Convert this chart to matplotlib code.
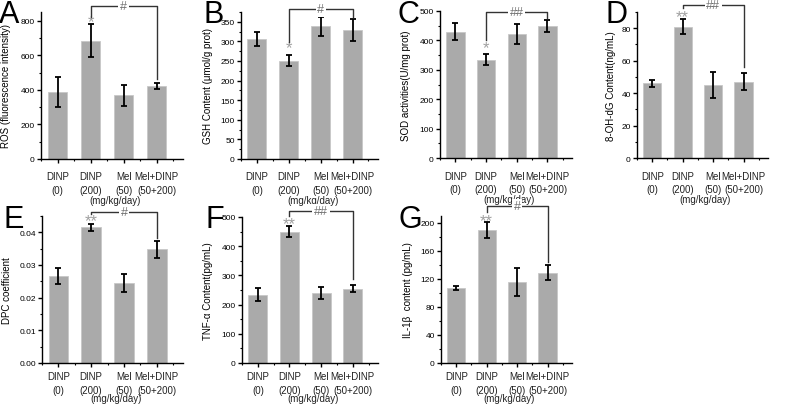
import matplotlib
matplotlib.use("Agg")
import matplotlib.pyplot as plt
from matplotlib.ticker import MultipleLocator, FormatStrFormatter
from matplotlib.transforms import blended_transform_factory

plt.rcParams['font.family'] = ['Liberation Sans', 'DejaVu Sans']

# ---------------- data ----------------
groups = ["DINP\n(0)", "DINP\n(200)", "Mel\n(50)", "Mel+DINP\n(50+200)"]
unit_label = "(mg/kg/day)"

ros_mean = [385, 685, 368, 423]
ros_err = [87, 97, 62, 19]
gsh_mean = [307, 251, 339, 329]
gsh_err = [18, 15, 24, 27]
sod_mean = [430, 335, 422, 448]
sod_err = [28, 18, 35, 21]
ohdg_mean = [46, 81, 45, 47]
ohdg_err = [2.3, 4.5, 8, 5.3]
dpc_mean = [0.0267, 0.0415, 0.0245, 0.0348]
dpc_err = [0.0025, 0.0012, 0.0028, 0.0026]
tnf_mean = [234, 450, 240, 255]
tnf_err = [23, 20, 21, 13]
il1b_mean = [107, 190, 116, 129]
il1b_err = [2.4, 11, 20, 11]

panel_letters = ["A", "B", "C", "D", "E", "F", "G"]
ylabels = ["ROS (fluorescence intensity)", "GSH Content (\u03bcmol/g prot)",
           "SOD activities(U/mg prot)", "8-OH-dG Content(ng/mL)",
           "DPC coefficient", "TNF-\u03b1 Content(pg/mL)",
           "IL-1\u03b2  content (pg/mL)"]
star_marks = ["*", "*", "*", "**", "**", "**", "**"]
hash_marks = ["#", "#", "##", "##", "#", "##", "#"]
ylims = [850, 375, 500, 90, 0.045, 500, 210]
major_steps = [200, 50, 100, 20, 0.01, 100, 40]
tick_formats = ["%d", "%d", "%d", "%d", "%.2f", "%d", "%d"]

means = [ros_mean, gsh_mean, sod_mean, ohdg_mean, dpc_mean, tnf_mean, il1b_mean]
errs = [ros_err, gsh_err, sod_err, ohdg_err, dpc_err, tnf_err, il1b_err]

# ---------------- layout (pixels) ----------------
W, H = 787, 406
boxes = [(41, 183, 13, 160), (241, 378, 13, 160), (440, 572, 12, 159),
         (637, 768, 13, 159), (42, 183, 217, 364), (242, 378, 218, 364),
         (441, 572, 217, 364)]
letter_pos = [(-1, 0), (203, 0), (398, 0), (605, 0), (4, 205), (205, 205), (399, 205)]
ylabel_x = [11, 213, 411, 616, 12, 213, 413]
# annotation offsets (fraction of ylim)
star_off = [0.031, 0.064, 0.06, 0.034, 0.036, 0.028, 0.029]
left_off = [0.046, 0.088, 0.094, 0.076, 0.062, 0.068, 0.067]
right_off = [0.023, 0.016, 0.014, 0.04, 0.017, 0.038, 0.018]
bracket_frac = [1.04, 1.02, 0.99, 1.05, 1.03, 1.04, 1.066]

fig = plt.figure(figsize=(W / 100, H / 100), dpi=100)
bar_color = "#aaaaaa"
xs = [1, 2, 3, 4]

for i in range(7):
    l, r, t, b = boxes[i]
    ax = fig.add_axes([l / W, 1 - b / H, (r - l) / W, (b - t) / H])
    ax.bar(xs, means[i], width=0.6, color=bar_color, edgecolor="#c8c8c8", linewidth=0.6, zorder=2)
    ax.errorbar(xs, means[i], yerr=errs[i], fmt="none", ecolor="black",
                elinewidth=1.3, capsize=2, capthick=1.3, zorder=3)
    ax.set_xlim(0.5, 4.8)
    ax.set_ylim(0, ylims[i])
    for s in ["top", "right"]:
        ax.spines[s].set_visible(False)
    for s in ["left", "bottom"]:
        ax.spines[s].set_linewidth(1.0)
    ax.set_xticks(xs)
    ax.set_xticklabels(groups, fontsize=7, color="#222222", linespacing=1.4)
    ax.xaxis.set_minor_locator(MultipleLocator(0.5))
    ax.yaxis.set_major_locator(MultipleLocator(major_steps[i]))
    ax.yaxis.set_minor_locator(MultipleLocator(major_steps[i] / 2))
    ax.yaxis.set_major_formatter(FormatStrFormatter(tick_formats[i]))
    ax.tick_params(axis="both", which="major", length=3, width=1, direction="out")
    ax.tick_params(axis="both", which="minor", length=1.5, width=0.8, direction="out")
    ax.tick_params(axis="y", labelsize=6, pad=1.5)
    ax.tick_params(axis="x", pad=6 if i < 4 else 3)
    ax.set_ylabel(ylabels[i], fontsize=7)
    ax.yaxis.set_label_coords(ylabel_x[i] / W, 1 - (t + b) / 2 / H, transform=fig.transFigure)

    trans = blended_transform_factory(ax.transData, fig.transFigure)
    ax.text(2.75, 1 - (b + (41 if i < 4 else 35)) / H, unit_label, transform=trans,
            ha="center", va="center", fontsize=7, color="#222222", clip_on=False)

    # letter
    fig.text(letter_pos[i][0] / W, 1 - letter_pos[i][1] / H, panel_letters[i],
             ha="left", va="top", fontsize=22)

    # significance
    ymax = ylims[i]
    top2 = means[i][1] + errs[i][1]
    top4 = means[i][3] + errs[i][3]
    ax.annotate(star_marks[i], xy=(2, top2 + star_off[i] * ymax), xytext=(0, -5),
                textcoords="offset points", ha="center", va="baseline",
                fontsize=12, color="#a0a0a0", annotation_clip=False)
    yb = bracket_frac[i] * ymax
    ax.plot([2, 2, 4, 4], [top2 + left_off[i] * ymax, yb, yb, top4 + right_off[i] * ymax],
            color="#333333", lw=1.0, clip_on=False, zorder=4)
    ax.text(3, yb, hash_marks[i], ha="center", va="center", fontsize=9, color="#707070",
            bbox=dict(facecolor="white", edgecolor="none", pad=1.2), clip_on=False, zorder=5)

fig.savefig("out.png", dpi=100)
